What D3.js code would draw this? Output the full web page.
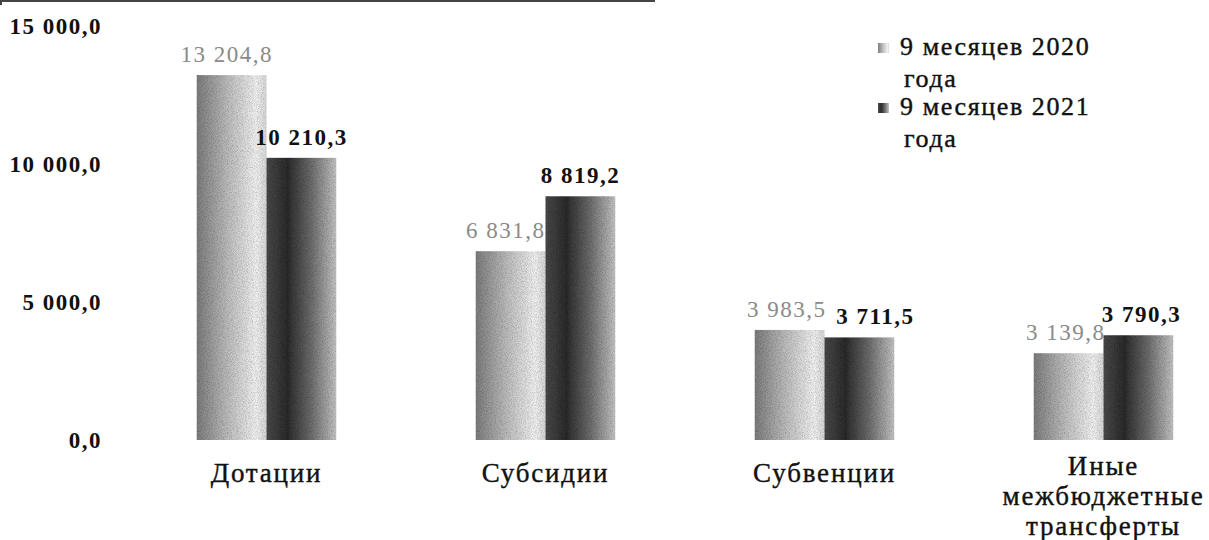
<!DOCTYPE html>
<html>
<head>
<meta charset="utf-8">
<script src="https://cdn.jsdelivr.net/npm/d3@7"></script>
<style>
  body { margin: 0; background: #ffffff; }
  svg { display: block; }
</style>
</head>
<body>
<svg id="chart" width="1209" height="540"></svg>
<script>
// Межбюджетные трансферты, млн руб.

var categories = ["Дотации", "Субсидии", "Субвенции", "Иные межбюджетные трансферты"];
var seriesNames = ["9 месяцев 2020 года", "9 месяцев 2021 года"];
var values2020 = [13204.8, 6831.8, 3983.5, 3139.8];
var values2021 = [10210.3, 8819.2, 3711.5, 3790.3];
var yTicks = [0, 5000, 10000, 15000];

// сдвиг подписей, чтобы не налезали друг на друга
var labelShift = [[-5, 0], [-5, 0], [-3, 16], [-3, 3]];

var svg = d3.select("#chart");
var serif = "'Liberation Serif', 'Times New Roman', serif";

var fmt = function (v) {
    var s = v.toFixed(1).replace(".", ",");
    var parts = s.split(",");
    var intPart = parts[0].replace(/\B(?=(\d{3})+(?!\d))/g, " ");
    return intPart + "," + parts[1];
};

// остаток рамки сверху
svg.append("line")
    .attr("x1", 0).attr("x2", 655)
    .attr("y1", 1).attr("y2", 1)
    .attr("stroke", "#444").attr("stroke-width", 2);
svg.append("line")
    .attr("x1", 1).attr("x2", 1)
    .attr("y1", 0).attr("y2", 5)
    .attr("stroke", "#444").attr("stroke-width", 2);

// градиенты
var defs = svg.append("defs");
var g1 = defs.append("linearGradient").attr("id", "grad2020");
[["0%", "#7c7c7c"], ["45%", "#bdbdbd"], ["85%", "#f0f0f0"], ["100%", "#d8d8d8"]].forEach(function (s) {
    g1.append("stop").attr("offset", s[0]).attr("stop-color", s[1]);
});
var g2 = defs.append("linearGradient").attr("id", "grad2021");
[["0%", "#4a4a4a"], ["30%", "#2c2c2c"], ["65%", "#6e6e6e"], ["100%", "#c4c4c4"]].forEach(function (s) {
    g2.append("stop").attr("offset", s[0]).attr("stop-color", s[1]);
});

var grain = defs.append("filter").attr("id", "grain")
    .attr("x", 0).attr("y", 0).attr("width", 1).attr("height", 1);
grain.append("feTurbulence").attr("type", "fractalNoise")
    .attr("baseFrequency", 1.2).attr("numOctaves", 1).attr("result", "noise");
grain.append("feColorMatrix").attr("in", "noise").attr("type", "matrix")
    .attr("values", "0 0 0 0 0  0 0 0 0 0  0 0 0 0 0  0 0 0 -0.9 0.55")
    .attr("result", "dots");
grain.append("feComposite").attr("in", "dots").attr("in2", "SourceGraphic")
    .attr("operator", "in").attr("result", "dotsIn");
grain.append("feMerge").call(function (m) {
    m.append("feMergeNode").attr("in", "SourceGraphic");
    m.append("feMergeNode").attr("in", "dotsIn");
});

var fills = ["url(#grad2020)", "url(#grad2021)"];

// шкалы
var y = d3.scaleLinear().domain([0, 15000]).range([440, 25.5]);

var x0 = d3.scaleBand()
    .domain(categories)
    .range([127, 1243])
    .paddingInner(0.5)
    .paddingOuter(0.25);

var x1 = d3.scaleBand()
    .domain([0, 1])
    .range([0, x0.bandwidth()])
    .padding(0);

// ось Y (только подписи)
svg.append("g").selectAll("text")
    .data(yTicks).enter()
    .append("text")
    .attr("x", 102)
    .attr("y", function (d) { return y(d); })
    .attr("dy", "0.35em")
    .attr("text-anchor", "end")
    .attr("font-family", serif)
    .attr("font-weight", "bold")
    .attr("font-size", "23px")
    .attr("letter-spacing", "1.5px")
    .attr("fill", "#111")
    .text(fmt);

// столбцы
var rows = categories.map(function (c, i) {
    return { cat: c, idx: i, vals: [values2020[i], values2021[i]] };
});

var groups = svg.selectAll(".grp")
    .data(rows).enter()
    .append("g")
    .attr("class", "grp")
    .attr("transform", function (d) { return "translate(" + x0(d.cat) + ",0)"; });

groups.selectAll("rect")
    .data(function (d) { return d.vals; })
    .enter().append("rect")
    .attr("x", function (d, i) { return x1(i); })
    .attr("y", function (d) { return y(d); })
    .attr("width", x1.bandwidth())
    .attr("height", function (d) { return y(0) - y(d); })
    .attr("fill", function (d, i) { return fills[i]; })
    .attr("filter", "url(#grain)");

// подписи значений
groups.selectAll(".val")
    .data(function (d) { return d.vals.map(function (v) { return { v: v, g: d.idx }; }); })
    .enter().append("text")
    .attr("class", "val")
    .attr("x", function (d, i) { return x1(i) + x1.bandwidth() / 2 + labelShift[d.g][i]; })
    .attr("y", function (d) { return y(d.v) - 13; })
    .attr("text-anchor", "middle")
    .attr("font-family", serif)
    .attr("font-size", "23px")
    .attr("letter-spacing", "1.5px")
    .attr("font-weight", function (d, i) { return i === 1 ? "bold" : "normal"; })
    .attr("fill", function (d, i) { return i === 1 ? "#111" : "#8a8a8a"; })
    .text(function (d) { return fmt(d.v); });

// подписи категорий
var catLines = {
    "Иные межбюджетные трансферты": ["Иные", "межбюджетные", "трансферты"]
};

var catText = svg.append("g").selectAll("text")
    .data(categories).enter()
    .append("text")
    .attr("y", function (d) { return catLines[d] ? 475 : 482; })
    .attr("text-anchor", "middle")
    .attr("font-family", serif)
    .attr("font-size", "27px")
    .attr("letter-spacing", "1.8px")
    .attr("fill", "#111")
    .attr("stroke", "#111")
    .attr("stroke-width", 0.4);

catText.each(function (d) {
    var lines = catLines[d] || [d];
    var t = d3.select(this);
    lines.forEach(function (ln, i) {
        t.append("tspan")
            .attr("x", x0(d) + x0.bandwidth() / 2)
            .attr("dy", i === 0 ? 0 : 30)
            .text(ln);
    });
});

// легенда
var legend = svg.append("g")
    .attr("transform", "translate(878, 43)");

var legendLines = [["9 месяцев 2020", "года"], ["9 месяцев 2021", "года"]];

legend.selectAll("rect")
    .data(seriesNames).enter()
    .append("rect")
    .attr("x", 0)
    .attr("y", function (d, i) { return i * 60; })
    .attr("width", 11)
    .attr("height", 10)
    .attr("fill", function (d, i) { return fills[i]; });

legend.selectAll(".lg")
    .data(seriesNames).enter()
    .append("text")
    .attr("class", "lg")
    .attr("font-family", serif)
    .attr("font-size", "26px")
    .attr("letter-spacing", "1.6px")
    .attr("fill", "#111")
    .attr("stroke", "#111")
    .attr("stroke-width", 0.4)
    .each(function (d, i) {
        var t = d3.select(this);
        legendLines[i].forEach(function (ln, j) {
            t.append("tspan")
                .attr("x", j === 0 ? 22 : 26)
                .attr("y", i * 60 + 12 + j * 32)
                .text(ln);
        });
    });
</script>
</body>
</html>
